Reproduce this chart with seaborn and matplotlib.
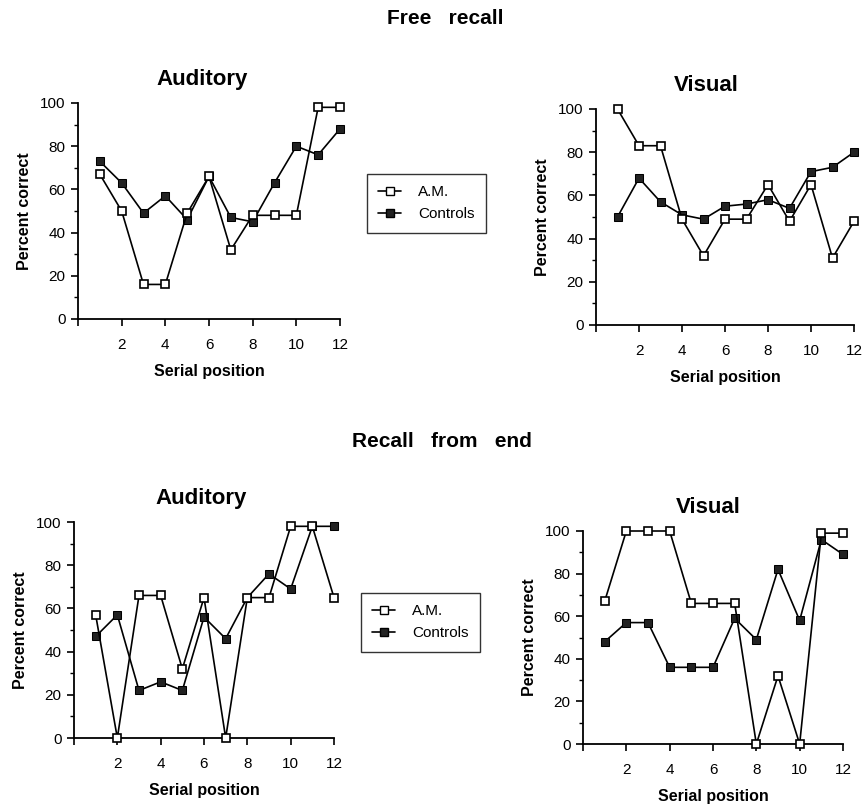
import numpy as np
import pandas as pd
import matplotlib
matplotlib.use("Agg")
import matplotlib.pyplot as plt
from matplotlib.lines import Line2D
from matplotlib.ticker import MultipleLocator
import seaborn as sns

sns.set_theme(style="ticks")
plt.rcParams["font.family"] = ["Liberation Sans", "DejaVu Sans"]
plt.rcParams["text.color"] = "black"
plt.rcParams["axes.labelcolor"] = "black"
plt.rcParams["xtick.color"] = "black"
plt.rcParams["ytick.color"] = "black"

# Serial positions 1..12
positions = list(range(1, 13))

# Free recall, auditory presentation
free_aud_am = [67, 50, 16, 16, 49, 66, 32, 48, 48, 48, 98, 98]
free_aud_ctrl = [73, 63, 49, 57, 46, 66, 47, 45, 63, 80, 76, 88]

# Free recall, visual presentation
free_vis_am = [100, 83, 83, 49, 32, 49, 49, 65, 48, 65, 31, 48]
free_vis_ctrl = [50, 68, 57, 51, 49, 55, 56, 58, 54, 71, 73, 80]

# Recall from end, auditory presentation
end_aud_am = [57, 0, 66, 66, 32, 65, 0, 65, 65, 98, 98, 65]
end_aud_ctrl = [47, 57, 22, 26, 22, 56, 46, 65, 76, 69, 98, 98]

# Recall from end, visual presentation
end_vis_am = [67, 100, 100, 100, 66, 66, 66, 0, 32, 0, 99, 99]
end_vis_ctrl = [48, 57, 57, 36, 36, 36, 59, 49, 82, 58, 96, 89]

panel_titles = ["Auditory", "Visual", "Auditory", "Visual"]
section_titles = ["Free   recall", "Recall   from   end"]
series_names = ["A.M.", "Controls"]
x_ticks = [0, 2, 4, 6, 8, 10, 12]
x_ticklabels = ["", "2", "4", "6", "8", "10", "12"]
y_ticks = [0, 20, 40, 60, 80, 100]

W, H = 865, 806
fig = plt.figure(figsize=(W / 100, H / 100), dpi=100)
fig.patch.set_facecolor("white")


def px_axes(left, right, top, bottom):
    return fig.add_axes([left / W, 1 - bottom / H, (right - left) / W, (bottom - top) / H])


axes = [
    px_axes(78, 340, 103, 319),
    px_axes(596, 854, 109, 325),
    px_axes(74, 334, 522, 738),
    px_axes(583, 843, 531, 744),
]
# horizontal centre of each panel title, in axes fraction
title_x = [0.473, 0.426, 0.49, 0.48]

panels = [
    (free_aud_am, free_aud_ctrl),
    (free_vis_am, free_vis_ctrl),
    (end_aud_am, end_aud_ctrl),
    (end_vis_am, end_vis_ctrl),
]

MS = 5.5
for ax, (am, ctrl), title, tx in zip(axes, panels, panel_titles, title_x):
    df = pd.DataFrame({"pos": positions, "am": am, "ctrl": ctrl})
    sns.lineplot(data=df, x="pos", y="ctrl", ax=ax, color="black", lw=1.2,
                 marker="s", markersize=MS, markerfacecolor="#222222",
                 markeredgecolor="black", clip_on=False, zorder=3)
    sns.lineplot(data=df, x="pos", y="am", ax=ax, color="black", lw=1.2,
                 marker="s", markersize=MS, markerfacecolor="white",
                 markeredgecolor="black", markeredgewidth=1.2,
                 clip_on=False, zorder=4)
    ax.set_xlim(0, 12)
    ax.set_ylim(0, 100)
    ax.set_facecolor("white")
    sns.despine(ax=ax)
    for s in ("left", "bottom"):
        ax.spines[s].set_linewidth(1.3)
        ax.spines[s].set_color("black")
    ax.set_xticks(x_ticks)
    ax.set_xticklabels(x_ticklabels)
    ax.set_yticks(y_ticks)
    ax.yaxis.set_minor_locator(MultipleLocator(10))
    ax.tick_params(axis="both", which="major", direction="out", length=5,
                   width=1.2, color="black", labelsize=11, labelcolor="black")
    ax.tick_params(axis="x", which="major", pad=9)
    ax.tick_params(axis="y", which="major", pad=4)
    ax.tick_params(axis="y", which="minor", direction="out", length=3,
                   width=1.0, color="black")
    t = ax.set_title(title, fontsize=16, fontweight="bold", pad=13, color="black")
    t.set_x(tx)
    ax.set_xlabel("Serial position", fontsize=11.5, fontweight="bold", labelpad=8)
    ax.set_ylabel("Percent correct", fontsize=11.5, fontweight="bold", labelpad=6)

# Section headings
fig.text(445 / W, 1 - 19 / H, section_titles[0], ha="center", va="center",
         fontsize=15, fontweight="bold", color="black")
fig.text(442 / W, 1 - 442 / H, section_titles[1], ha="center", va="center",
         fontsize=15, fontweight="bold", color="black")

# Shared legends between the panels
handles = [
    Line2D([], [], color="black", lw=1.2, marker="s", markersize=MS,
           markerfacecolor="white", markeredgecolor="black"),
    Line2D([], [], color="black", lw=1.2, marker="s", markersize=MS,
           markerfacecolor="#222222", markeredgecolor="black"),
]
for anchor in [(367 / W, 1 - 174 / H), (361 / W, 1 - 593 / H)]:
    leg = fig.legend(handles, series_names, loc="upper left", bbox_to_anchor=anchor,
                     frameon=True, fancybox=False, fontsize=11, handlelength=1.5,
                     borderpad=0.75, labelspacing=0.5, handletextpad=1.1,
                     borderaxespad=0)
    leg.get_frame().set_edgecolor("black")
    leg.get_frame().set_linewidth(1.0)
    for txt in leg.get_texts():
        txt.set_color("black")

fig.savefig("out.png", dpi=100, facecolor="white")
